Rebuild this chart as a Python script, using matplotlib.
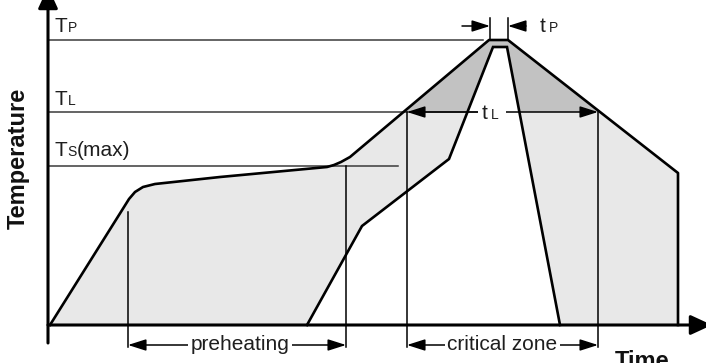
import matplotlib.pyplot as plt
from matplotlib.patches import Rectangle

plt.rcParams['font.family'] = ['Liberation Sans', 'DejaVu Sans']

# profile data (time, temperature), arbitrary units
max_t = [2, 76, 81, 87, 95, 107, 172, 279, 286, 293, 302, 441, 460, 630, 630]
max_T = [0, 118, 126, 133, 138, 141, 148, 158, 160, 163, 168, 285, 285, 152, 0]
min_t = [259, 314, 401, 445, 459, 512]
min_T = [0, 99, 166, 278, 278, 0]

# temperature levels
T_P = 285
T_L = 213
T_S = 159

# marker times
t_pre = [80, 298]
t_crit = [359, 550]
t_peak = [442, 460]

LIGHT = '#e8e8e8'
DARK = '#c2c2c2'
THIN = '#3a3a3a'

fig = plt.figure(figsize=(7.06, 3.63), dpi=100)
ax = fig.add_axes([0, 0, 1, 1])
ax.set_xlim(-48, 658)
ax.set_ylim(-38, 325)
ax.axis('off')

# fills
ax.fill(max_t, max_T, color=LIGHT, lw=0, zorder=1)
dark = ax.fill(max_t, max_T, color=DARK, lw=0, zorder=2)[0]
dark.set_clip_path(Rectangle((-48, T_L), 710, 200, transform=ax.transData))
ax.fill(min_t, min_T, color='white', lw=0, zorder=3)

# level lines
ax.plot([0, 435], [T_P, T_P], color=THIN, lw=1.1, zorder=4)
ax.plot([0, 430], [T_L, T_L], color=THIN, lw=1.1, zorder=4)
ax.plot([0, 350], [T_S, T_S], color=THIN, lw=1.1, zorder=4)

# vertical markers
ax.plot([t_pre[0], t_pre[0]], [113, -22], color='black', lw=1.1, zorder=4)
ax.plot([t_pre[1], t_pre[1]], [T_S, -22], color='black', lw=1.1, zorder=4)
ax.plot([t_crit[0], t_crit[0]], [T_L, -22], color='black', lw=1.1, zorder=4)
ax.plot([t_crit[1], t_crit[1]], [T_L, -22], color='black', lw=1.1, zorder=4)
ax.plot([t_peak[0], t_peak[0]], [T_P, 307], color='black', lw=1.1, zorder=4)
ax.plot([t_peak[1], t_peak[1]], [T_P, 307], color='black', lw=1.1, zorder=4)

# profiles
ax.plot(max_t, max_T, color='black', lw=1.9, zorder=5, solid_joinstyle='round')
ax.plot(min_t, min_T, color='black', lw=1.9, zorder=5, solid_joinstyle='miter')

# axes with arrows
ax_arrow = dict(arrowstyle='-|>,head_length=1.3,head_width=0.6', color='black',
                lw=2.2, shrinkA=0, shrinkB=0)
ax.annotate('', xy=(0, 338), xytext=(0, -18), arrowprops=ax_arrow, zorder=6,
            annotation_clip=False)
ax.annotate('', xy=(664, 0), xytext=(0, 0), arrowprops=ax_arrow, zorder=6,
            annotation_clip=False)

dim_arrow = dict(arrowstyle='<|-|>,head_length=1.1,head_width=0.35', color='black',
                 lw=1.1, shrinkA=0, shrinkB=0)
one_arrow = dict(arrowstyle='-|>,head_length=1.1,head_width=0.35', color='black',
                 lw=1.1, shrinkA=0, shrinkB=0)

txt = dict(fontsize=15, color='#1e1e1e')
sub = dict(fontsize=10, color='#1e1e1e')
box = dict(boxstyle='square,pad=0.1', fc='white', ec='none')

# preheating / critical zone
ax.annotate('', xy=(t_pre[0], -20), xytext=(t_pre[1], -20), arrowprops=dim_arrow, zorder=6)
ax.text(sum(t_pre) / 2 + 3, -20, 'preheating', ha='center', va='center', bbox=box, zorder=7, **txt)
ax.annotate('', xy=(t_crit[0], -20), xytext=(t_crit[1], -20), arrowprops=dim_arrow, zorder=6)
ax.text(sum(t_crit) / 2, -20, 'critical zone', ha='center', va='center', bbox=box, zorder=7, **txt)

# t_L
ax.annotate('', xy=(t_crit[0], T_L), xytext=(t_crit[1], T_L), arrowprops=dim_arrow, zorder=6)
ax.add_patch(Rectangle((430, T_L - 8), 28, 16, fc='white', ec='none', zorder=7))
ax.text(434, T_L - 7, 't', ha='left', va='baseline', zorder=8, **txt)
ax.text(443, T_L - 7, 'L', ha='left', va='baseline', zorder=8, **sub)

# t_P
ax.annotate('', xy=(t_peak[0], 299), xytext=(t_peak[0] - 28, 299), arrowprops=one_arrow, zorder=6)
ax.annotate('', xy=(t_peak[1], 299), xytext=(t_peak[1] + 18, 299), arrowprops=one_arrow, zorder=6)
ax.text(492, 293, 't', ha='left', va='baseline', **txt)
ax.text(501, 293, 'P', ha='left', va='baseline', **sub)

# level labels
ax.text(6, 293, 'T', ha='left', va='baseline', **txt)
ax.text(20, 293, 'P', ha='left', va='baseline', **sub)
ax.text(6, 220, 'T', ha='left', va='baseline', **txt)
ax.text(20, 220, 'L', ha='left', va='baseline', **sub)
ax.text(6, 169, 'T', ha='left', va='baseline', **txt)
ax.text(19, 169, 'S', ha='left', va='baseline', **sub)
ax.text(29, 169, '(max)', ha='left', va='baseline', **txt)

# axis titles
ax.text(-30, 167, 'Temperature', rotation=90, ha='center', va='center',
        fontsize=17, fontweight='bold', color='#111111')
ax.text(567, -25, 'Time', ha='left', va='top', fontsize=17, fontweight='bold',
        color='#111111')

fig.savefig('out.png', dpi=100)
